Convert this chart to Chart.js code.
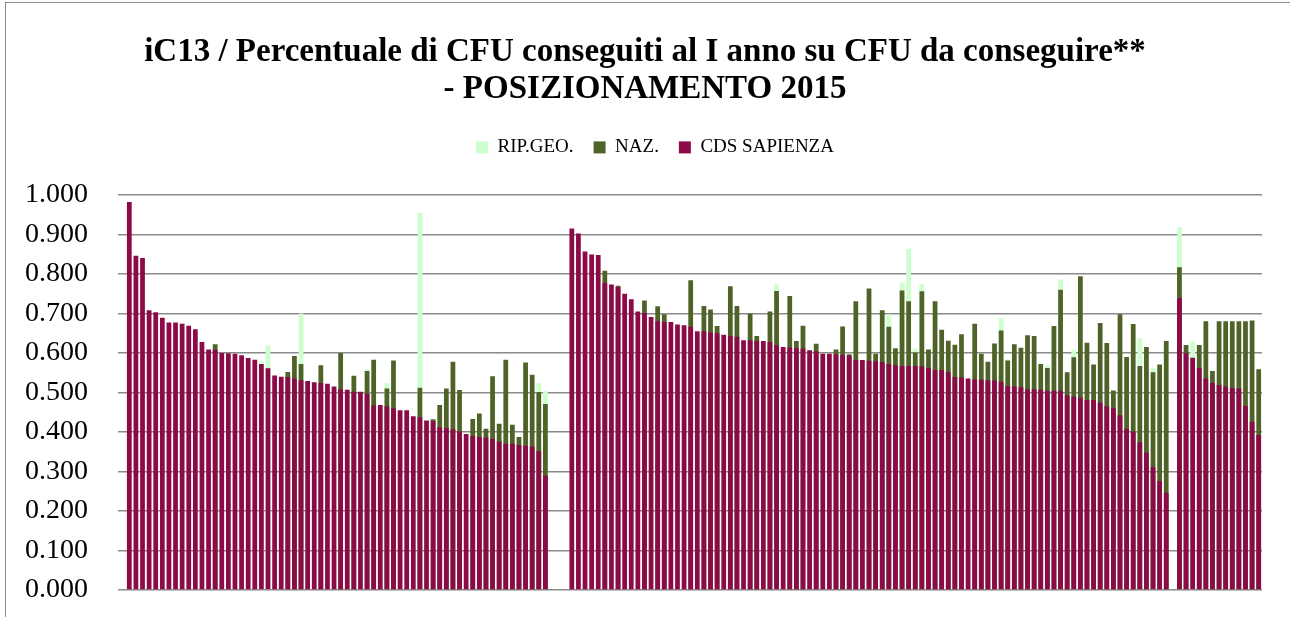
<!DOCTYPE html>
<html>
<head>
<meta charset="utf-8">
<script src="https://cdn.jsdelivr.net/npm/chart.js@4.4.0/dist/chart.umd.min.js"></script>
<style>
  html, body { margin: 0; padding: 0; background: #fff; }
  #frame { position: absolute; left: 5px; top: 2px; width: 1300px; height: 700px; border: 1px solid #8c8c8c; }
  #wrap { position: absolute; left: 0; top: 0; width: 1290px; height: 617px; }
</style>
</head>
<body>
<div id="frame"></div>
<div id="wrap"><canvas id="chart-ic13"></canvas></div>
<script>
const _ = null;

// CDS SAPIENZA (front series), three blocks of courses separated by empty slots
const cds = [
  0.982, 0.846, 0.840, 0.708, 0.703, 0.689, 0.677, 0.677, 0.674, 0.669, 0.660, 0.628, 0.609, 0.608, 0.600,
  0.599, 0.598, 0.594, 0.587, 0.583, 0.572, 0.561, 0.543, 0.540, 0.539, 0.535, 0.531, 0.529, 0.526, 0.524, 0.522,
  0.515, 0.508, 0.507, 0.502, 0.502, 0.497, 0.467, 0.468, 0.465, 0.460, 0.455, 0.455, 0.440, 0.437, 0.429, 0.428,
  0.412, 0.410, 0.407, 0.401, 0.395, 0.390, 0.387, 0.386, 0.382, 0.376, 0.370, 0.370, 0.367, 0.365, 0.363, 0.352, 0.289,
  _, _, _,
  0.915, 0.902, 0.857, 0.849, 0.848, 0.777, 0.773, 0.767, 0.750, 0.736, 0.705,
  0.701, 0.691, 0.680, 0.678, 0.678, 0.672, 0.670, 0.666, 0.655, 0.655, 0.652, 0.650, 0.646, 0.643, 0.641, 0.632,
  0.632, 0.630, 0.630, 0.628, 0.620, 0.615, 0.614, 0.612, 0.611, 0.607, 0.604, 0.598, 0.598, 0.597, 0.595, 0.593,
  0.582, 0.582, 0.580, 0.579, 0.577, 0.572, 0.569, 0.567, 0.567, 0.567, 0.566, 0.562, 0.557, 0.557, 0.551, 0.539,
  0.538, 0.535, 0.533, 0.533, 0.531, 0.530, 0.527, 0.516, 0.515, 0.513, 0.508, 0.508, 0.507, 0.504, 0.504, 0.504,
  0.493, 0.489, 0.487, 0.481, 0.481, 0.474, 0.465, 0.460, 0.442, 0.408, 0.401, 0.374, 0.348, 0.311, 0.276, 0.246,
  _,
  0.739, 0.599, 0.588, 0.562, 0.535, 0.524, 0.519, 0.515, 0.511, 0.510, 0.466, 0.426, 0.392
];

// NAZ. (only where it shows above the CDS bar)
const naz = [
  _, _, _, _, _, _, _, _, _, _, _, _, _, 0.622, _,
  _, _, _, _, _, _, _, _, _, 0.552, 0.592, 0.572, _, _, 0.569, _,
  _, 0.600, _, 0.542, _, 0.554, 0.583, _, 0.510, 0.581, _, _, _, 0.512, _, 0.432,
  0.468, 0.510, 0.578, 0.506, _, 0.433, 0.447, 0.408, 0.541, 0.421, 0.583, 0.418, 0.387, 0.576, 0.545, 0.501, 0.471,
  _, _, _,
  _, _, _, _, _, 0.808, _, 0.770, _, _, _,
  0.733, _, 0.718, 0.698, _, _, _, 0.784, _, 0.719, 0.710, 0.668, _, 0.769, 0.719, _,
  0.700, 0.643, _, 0.705, 0.757, _, 0.744, 0.630, 0.669, _, 0.623, _, _, 0.609, 0.667, 0.597,
  0.731, _, 0.763, 0.598, 0.708, 0.666, 0.612, 0.758, 0.731, 0.602, 0.756, 0.609, 0.731, 0.659, 0.631, 0.621,
  0.647, _, 0.674, 0.598, 0.578, 0.624, 0.657, 0.581, 0.622, 0.613, 0.645, 0.643, 0.572, 0.562, 0.668, 0.760,
  0.551, 0.589, 0.794, 0.626, 0.571, 0.676, 0.625, 0.505, 0.698, 0.590, 0.673, 0.567, 0.615, 0.551, 0.571, 0.630,
  _,
  0.817, 0.620, _, 0.620, 0.680, 0.554, 0.680, 0.680, 0.680, 0.680, 0.680, 0.682, 0.559
];

// RIP.GEO. (only where it shows above the other two)
const ripGeo = [
  _, _, _, _, _, _, _, _, _, _, _, _, _, _, _,
  _, _, _, _, _, 0.579, 0.619, _, _, _, _, 0.700, _, _, _, _,
  _, _, _, _, _, 0.559, _, _, 0.523, _, _, _, _, 0.955, _, _,
  _, _, _, _, _, _, _, _, _, _, _, _, _, _, _, 0.524, 0.504,
  _, _, _,
  _, _, _, _, _, _, _, _, _, _, _,
  _, _, _, _, _, _, _, _, _, _, _, _, _, _, _, _,
  _, _, _, _, 0.773, _, _, _, _, _, _, _, _, _, _, _,
  _, _, _, _, _, 0.698, _, 0.778, 0.863, 0.611, 0.774, _, _, _, _, _,
  _, _, _, _, _, _, 0.688, 0.583, _, _, _, _, _, 0.569, _, 0.786,
  _, 0.608, _, _, _, _, _, _, _, _, _, 0.637, _, 0.561, _, _,
  _,
  0.918, _, 0.629, _, _, _, _, _, _, _, _, _, _
];

const categories = cds.map(() => '');
const yTicks = [0, 0.1, 0.2, 0.3, 0.4, 0.5, 0.6, 0.7, 0.8, 0.9, 1.0];

const serif = "'Liberation Serif', 'DejaVu Serif', serif";

// extra room under the legend, and nudge title/legend to the right like the original
const legendGap = {
  id: 'legendGap',
  beforeInit(chart) {
    const fit = chart.legend.fit;
    chart.legend.fit = function() {
      fit.bind(chart.legend)();
      this.height += 28;
    };
  },
  afterLayout(chart) {
    chart.legend.left += 15;
    chart.legend.right += 15;
    chart.titleBlock.left += 5;
    chart.titleBlock.right += 5;
  }
};

document.addEventListener('DOMContentLoaded', function() {
  const ctx = document.getElementById('chart-ic13');
  new Chart(ctx, {
    type: 'bar',
    data: {
      labels: categories,
      datasets: [
        { label: 'RIP.GEO.', data: ripGeo, backgroundColor: '#ccffcc', order: 3 },
        { label: 'NAZ.', data: naz, backgroundColor: '#4f6228', order: 2 },
        { label: 'CDS SAPIENZA', data: cds, backgroundColor: '#8c0a48', order: 1 }
      ]
    },
    plugins: [legendGap],
    options: {
      responsive: true,
      maintainAspectRatio: false,
      animation: false,
      layout: { padding: { left: 18, right: 28, top: 0, bottom: 27 } },
      datasets: { bar: { grouped: false, categoryPercentage: 1, barPercentage: 0.72 } },
      plugins: {
        title: {
          display: true,
          text: ['iC13 / Percentuale di CFU conseguiti al I anno su CFU da conseguire**', '- POSIZIONAMENTO 2015'],
          color: '#000',
          font: { family: serif, size: 33, weight: 'bold', lineHeight: 1.15 },
          padding: { top: 33, bottom: 9 }
        },
        legend: {
          labels: {
            sort: (a, b) => a.datasetIndex - b.datasetIndex,
            boxWidth: 12,
            boxHeight: 12,
            color: '#000',
            padding: 20,
            font: { family: serif, size: 19 }
          }
        },
        tooltip: { enabled: false }
      },
      scales: {
        x: {
          afterFit: function(scale) { scale.height = 0; },
          ticks: { display: false },
          grid: { display: false },
          border: { display: false }
        },
        y: {
          min: 0,
          max: 1,
          afterFit: function(scale) {
            scale.width = 108;
            scale.paddingTop = 0;
            scale.paddingBottom = 0;
          },
          afterBuildTicks: function(scale) { scale.ticks = yTicks.map(v => ({ value: v })); },
          ticks: {
            color: '#000',
            padding: 30,
            font: { family: serif, size: 28 },
            callback: v => v.toFixed(3)
          },
          grid: { color: '#8a8a8a', lineWidth: 1.5, tickLength: 8 },
          border: { display: false }
        }
      }
    }
  });
});
</script>
</body>
</html>
